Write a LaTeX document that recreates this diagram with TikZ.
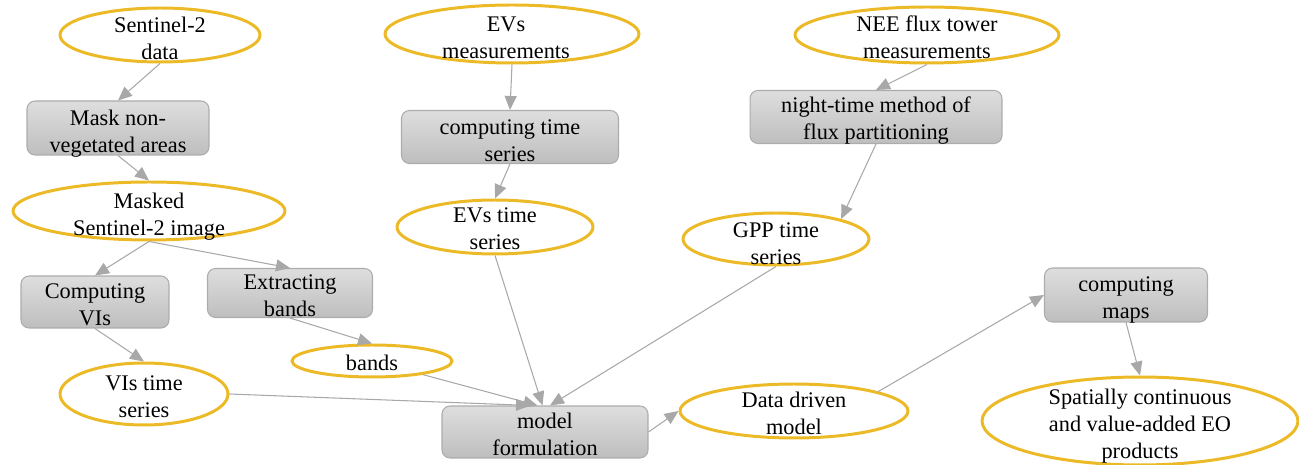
\documentclass[tikz,border=0pt]{standalone}
\usepackage{fontspec}
\setmainfont{Liberation Serif}
\usetikzlibrary{shapes.geometric,arrows.meta,calc}
\definecolor{gold}{RGB}{236,186,38}
\definecolor{edgegray}{RGB}{168,168,168}
\definecolor{boxtop}{RGB}{222,222,222}
\definecolor{boxbot}{RGB}{190,190,190}
\definecolor{boxline}{RGB}{172,172,172}
\begin{document}
\begin{tikzpicture}[x=0.02cm,y=-0.02cm,
  txt/.style={font=\fontsize{12.7}{15.4}\selectfont, align=center, inner sep=0pt, text=black},
  ell/.style={ellipse, draw=gold, line width=1.7pt, fill=white, inner sep=0pt},
  lbl/.style={txt},
  box/.style={rectangle, inner sep=0pt, rounded corners=0.16cm, draw=boxline, line width=0.6pt, top color=boxtop, bottom color=boxbot},
  conn/.style={draw=edgegray, line width=0.6pt, -{Triangle[length=0.28cm,width=0.24cm]}}
]
\useasboundingbox (0,0) rectangle (1299,465);

% ellipses
\node[ell, minimum width=4.0cm, minimum height=1.08cm, label={[lbl,yshift=-0.06cm]center:{Sentinel-2\\data}}] (s2) at (160,35) {};
\node[ell, minimum width=5.44cm, minimum height=1.16cm, label={[lbl,yshift=-0.11cm]center:{Masked\\Sentinel-2 image}}] (masked) at (149,211) {};
\node[ell, minimum width=3.36cm, minimum height=1.24cm, label={[lbl,yshift=-0.05cm]center:{VIs time\\series}}] (vts) at (144,394) {};
\node[ell, minimum width=3.2cm, minimum height=0.64cm, label={[lbl,yshift=-0.04cm]center:{bands}}] (bands) at (372,361) {};
\node[ell, minimum width=5.08cm, minimum height=1.16cm, label={[lbl,xshift=-0.12cm,yshift=-0.08cm]center:{EVs\\measurements}}] (evm) at (512,34) {};
\node[ell, minimum width=3.92cm, minimum height=1.08cm, label={[lbl,yshift=-0.04cm]center:{EVs time\\series}}] (evts) at (495,227) {};
\node[ell, minimum width=5.28cm, minimum height=1.12cm, label={[lbl,yshift=-0.04cm]center:{NEE flux tower\\measurements}}] (nee) at (927,35) {};
\node[ell, minimum width=3.72cm, minimum height=1.04cm, label={[lbl,yshift=-0.1cm]center:{GPP time\\series}}] (gpp) at (776,239) {};
\node[ell, minimum width=4.56cm, minimum height=1.08cm, label={[lbl,yshift=-0.05cm]center:{Data driven\\model}}] (ddm) at (794,411) {};
\node[ell, minimum width=6.32cm, minimum height=1.76cm, label={[lbl,yshift=-0.11cm]center:{Spatially continuous\\and value-added EO\\products}}] (sp) at (1140,421) {};

% boxes
\node[box, minimum width=3.64cm, minimum height=1.08cm, label={[lbl,yshift=-0.12cm]center:{Mask non-\\vegetated areas}}] (mask) at (118,128) {};
\node[box, minimum width=2.96cm, minimum height=1.04cm, label={[lbl,yshift=-0.05cm]center:{Computing\\VIs}}] (cvi) at (95,302) {};
\node[box, minimum width=3.3cm, minimum height=0.98cm, label={[lbl,yshift=-0.05cm]center:{Extracting\\bands}}] (ext) at (290,293) {};
\node[box, minimum width=4.34cm, minimum height=1.06cm, label={[lbl,yshift=-0.07cm]center:{computing time\\series}}] (cts) at (510,137) {};
\node[box, minimum width=5.04cm, minimum height=1.06cm, label={[lbl,yshift=-0.08cm]center:{night-time method of\\flux partitioning}}] (nt) at (876,117) {};
\node[box, minimum width=4.12cm, minimum height=1.04cm, label={[lbl,yshift=-0.04cm]center:{model\\formulation}}] (mf) at (545,432) {};
\node[box, minimum width=3.26cm, minimum height=1.08cm, label={[lbl,yshift=-0.1cm]center:{computing\\maps}}] (cmaps) at (1126,295) {};

% connectors
\draw[conn] (s2.south) -- (mask.north);
\draw[conn] (mask.south) -- (masked.north);
\draw[conn] (masked.south) -- (cvi.north);
\draw[conn] (masked.south) -- (ext.north);
\draw[conn] (cvi.south) -- (vts.north);
\draw[conn] (ext.south) -- (bands.north);
\draw[conn] (evm.south) -- (cts.north);
\draw[conn] (cts.south) -- (evts.north);
\draw[conn] (nee.south) -- (nt.north);
\draw[conn] (nt.south) -- (gpp.17);
\draw[conn] (vts.east) -- ([xshift=-0.3cm]mf.north);
\draw[conn] (bands.-15) -- ([xshift=-0.15cm]mf.north);
\draw[conn] (evts.south) -- ([xshift=-0.05cm]mf.north);
\draw[conn] (gpp.south) -- ([xshift=0.1cm]mf.north);
\draw[conn] (mf.east) -- (ddm.west);
\draw[conn] (ddm.13) -- (cmaps.west);
\draw[conn] (cmaps.south) -- (sp.north);
\end{tikzpicture}
\end{document}
